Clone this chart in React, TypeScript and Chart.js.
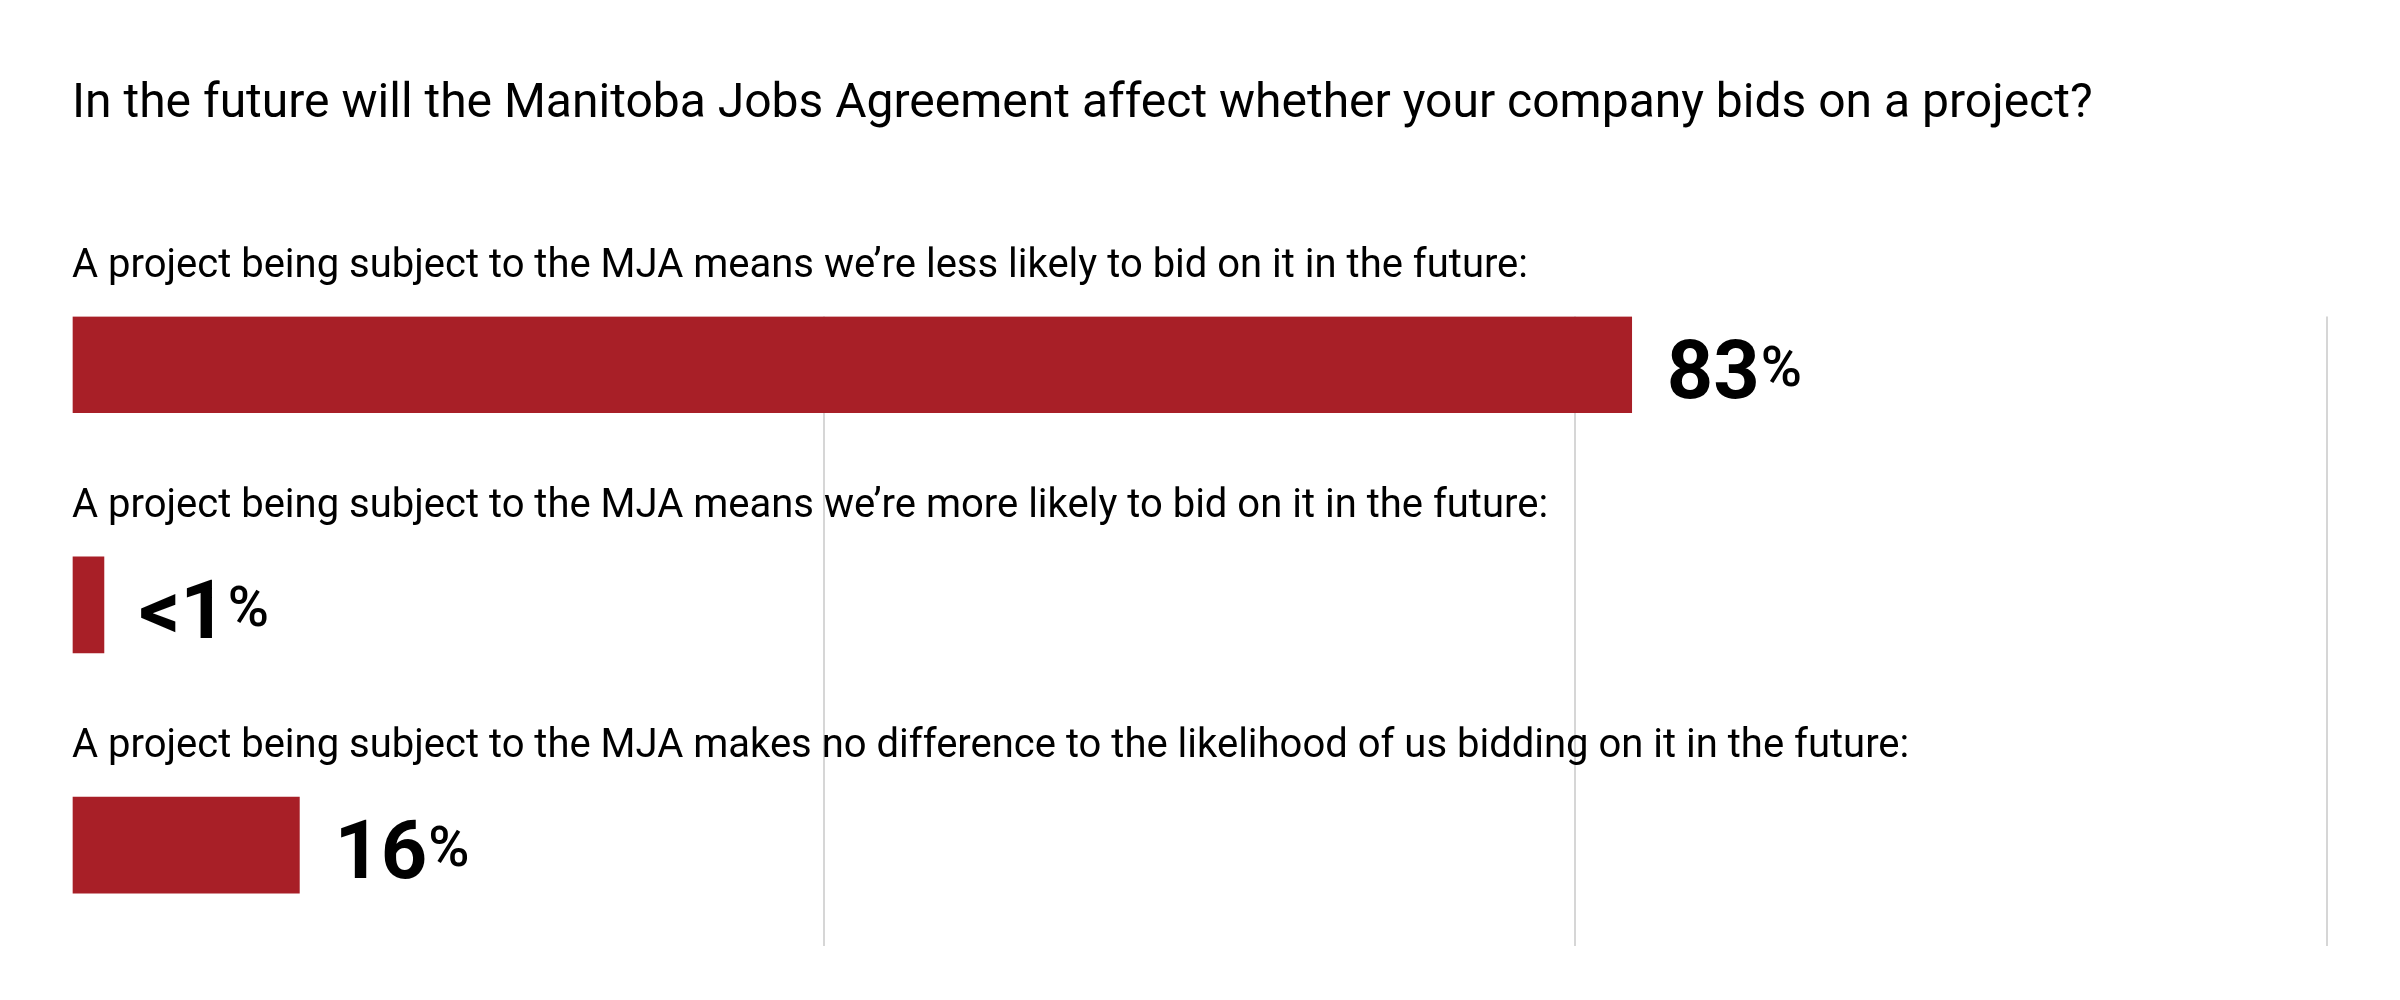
import { useEffect, useRef } from "react";
import { Chart, registerables } from "chart.js";

Chart.register(...registerables);

const title =
  "In the future will the Manitoba Jobs Agreement affect whether your company bids on a project?";

const categories = [
  "A project being subject to the MJA means we\u2019re less likely to bid on it in the future:",
  "A project being subject to the MJA means we\u2019re more likely to bid on it in the future:",
  "A project being subject to the MJA makes no difference to the likelihood of us bidding on it in the future:",
];

// bar lengths as drawn, and the figures printed beside them
const values = [83, 1.7, 12.1];
const valueLabels = ["83", "<1", "16"];

const xTicks = [0, 40, 80, 120];

const BAR_COLOR = "#a81f27";
const FONT = "Roboto";

export default function App() {
  const canvasRef = useRef<HTMLCanvasElement>(null);
  const chartRef = useRef<any>(null);

  useEffect(() => {
    document.body.style.margin = "0";
    if (chartRef.current) chartRef.current.destroy();
    const ctx = canvasRef.current!.getContext("2d")!;

    const labelPlugin = {
      id: "rowLabels",
      afterDatasetsDraw: (chart: any) => {
        const { ctx, chartArea } = chart;
        const meta = chart.getDatasetMeta(0);
        ctx.save();
        meta.data.forEach((bar: any, i: number) => {
          // category text above the bar
          ctx.fillStyle = "#000";
          ctx.textAlign = "left";
          ctx.textBaseline = "middle";
          ctx.font = `400 40px ${FONT}`;
          ctx.fillText(categories[i], chartArea.left, bar.y - 98);

          // value beside the bar
          ctx.textBaseline = "alphabetic";
          ctx.font = `700 81px ${FONT}`;
          const x0 = bar.x + 35;
          ctx.fillText(valueLabels[i], x0, bar.y + 33);
          const w = ctx.measureText(valueLabels[i]).width;
          ctx.font = `500 56px ${FONT}`;
          ctx.fillText("%", x0 + w + 1, bar.y + 21);
        });
        ctx.restore();
      },
    };

    chartRef.current = new Chart(ctx, {
      type: "bar",
      data: {
        datasets: [
          {
            data: values.map((v, i) => ({ x: v, y: i })),
            backgroundColor: BAR_COLOR,
            borderWidth: 0,
            barThickness: 96,
          },
        ],
      },
      options: {
        indexAxis: "y",
        responsive: true,
        maintainAspectRatio: false,
        animation: false,
        layout: {
          padding: { left: 72, right: 73, top: 0, bottom: 54 },
        },
        plugins: {
          legend: { display: false },
          tooltip: { enabled: false },
          title: {
            display: true,
            text: title,
            align: "start",
            color: "#000",
            font: { family: FONT, size: 48, weight: "normal", lineHeight: 1.2 },
            padding: { top: 76, bottom: 183 },
          },
        },
        scales: {
          x: {
            type: "linear",
            min: xTicks[0],
            max: xTicks[xTicks.length - 1],
            afterBuildTicks: (axis: any) => {
              axis.ticks = xTicks.map((v) => ({ value: v }));
            },
            ticks: { display: false },
            border: { display: false },
            grid: {
              drawTicks: false,
              lineWidth: 2,
              color: (c: any) => (c.tick && c.tick.value === 0 ? "rgba(0,0,0,0)" : "#d6d6d6"),
            },
          },
          y: {
            type: "linear",
            reverse: true,
            offset: false,
            min: -0.2,
            max: categories.length - 1 + 0.42,
            display: false,
          },
        },
      },
      plugins: [labelPlugin],
    });

    return () => {
      if (chartRef.current) {
        chartRef.current.destroy();
        chartRef.current = null;
      }
    };
  }, []);

  return (
    <div style={{ width: "2400px", height: "1000px", position: "relative", background: "#fff" }}>
      <canvas ref={canvasRef} />
    </div>
  );
}
